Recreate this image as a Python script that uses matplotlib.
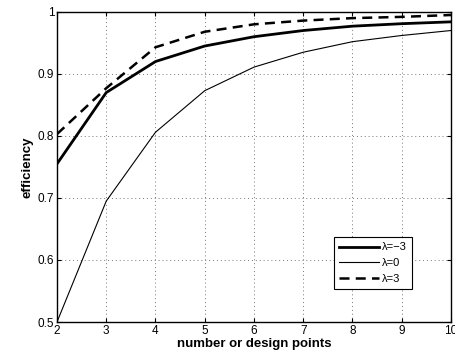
import matplotlib
matplotlib.use("Agg")
import matplotlib.pyplot as plt

plt.rcParams['font.family'] = ['Liberation Sans', 'DejaVu Sans']

n_points = [2, 3, 4, 5, 6, 7, 8, 9, 10]
eff_lam_m3 = [0.755, 0.870, 0.920, 0.945, 0.960, 0.970, 0.977, 0.981, 0.984]
eff_lam_0 = [0.500, 0.695, 0.806, 0.873, 0.911, 0.935, 0.952, 0.962, 0.970]
eff_lam_3 = [0.803, 0.877, 0.943, 0.968, 0.980, 0.986, 0.990, 0.992, 0.995]

fig = plt.figure(figsize=(4.56, 3.61), dpi=100)
ax = fig.add_axes([0.125, 0.108, 0.864, 0.859])

ax.plot(n_points, eff_lam_m3, color='black', lw=2.0, label='λ=−3')
ax.plot(n_points, eff_lam_0, color='black', lw=0.8, label='λ=0')
ax.plot(n_points, eff_lam_3, color='black', lw=1.8, ls=(0, (4, 2.5)), label='λ=3')

ax.set_xlim(2, 10)
ax.set_ylim(0.5, 1)
ax.set_xticks(range(2, 11))
ax.set_yticks([0.5, 0.6, 0.7, 0.8, 0.9, 1.0])
ax.set_yticklabels(['0.5', '0.6', '0.7', '0.8', '0.9', '1'])
ax.tick_params(direction='in', top=True, right=True, labelsize=8.5, length=3, pad=2)
ax.grid(True, ls=(0, (1, 3)), color='#777777', lw=0.7)
for s in ax.spines.values():
    s.set_linewidth(1.0)

ax.set_xlabel('number or design points', fontsize=9.5, fontweight='bold', labelpad=1)
ax.set_ylabel('efficiency', fontsize=9.5, fontweight='bold', labelpad=3)

leg = ax.legend(loc='lower right', bbox_to_anchor=(0.915, 0.09), fontsize=8, handlelength=3.6,
                fancybox=False, edgecolor='black', framealpha=1, borderpad=0.45,
                labelspacing=0.5, handletextpad=0.3)
leg.get_frame().set_linewidth(0.8)

fig.savefig('out.png', dpi=100)
